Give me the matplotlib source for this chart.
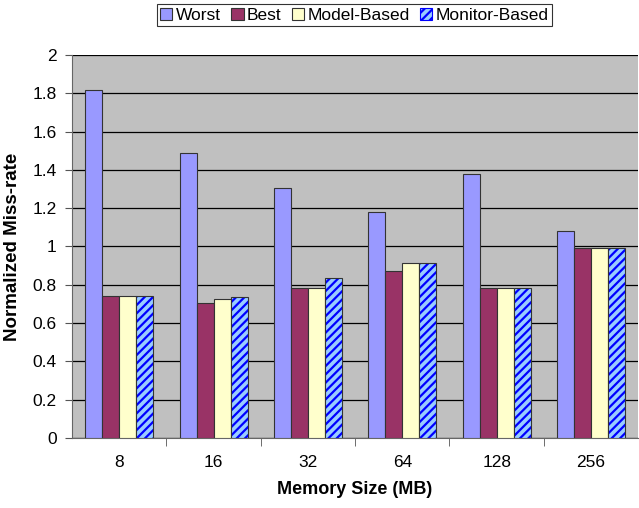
import matplotlib
matplotlib.use("Agg")
import matplotlib.pyplot as plt
import numpy as np
from matplotlib.patches import Patch

plt.rcParams['font.family'] = ['Liberation Sans', 'DejaVu Sans']
plt.rcParams['hatch.linewidth'] = 1.6

sizes = ['8', '16', '32', '64', '128', '256']
worst = [1.815, 1.49, 1.305, 1.18, 1.38, 1.08]
best = [0.74, 0.705, 0.785, 0.87, 0.785, 0.99]
model = [0.74, 0.725, 0.785, 0.915, 0.785, 0.99]
monitor = [0.74, 0.735, 0.835, 0.915, 0.785, 0.99]

fig = plt.figure(figsize=(6.39, 5.08), dpi=100)
ax = fig.add_axes([0.1127, 0.1378, 0.886, 0.754])
ax.set_facecolor('#C0C0C0')

x = np.arange(len(sizes))
w = 0.18
ax.bar(x - 1.5 * w, worst, w, color='#9999FF', edgecolor='#333333', linewidth=0.8, zorder=3)
ax.bar(x - 0.5 * w, best, w, color='#993366', edgecolor='#333333', linewidth=0.8, zorder=3)
ax.bar(x + 0.5 * w, model, w, color='#FFFFCC', edgecolor='#333333', linewidth=0.8, zorder=3)
ax.bar(x + 1.5 * w, monitor, w, color='#99CCFF', edgecolor='#0000FF', hatch='////', linewidth=0, zorder=3)
ax.bar(x + 1.5 * w, monitor, w, fill=False, edgecolor='#333333', linewidth=0.8, zorder=4)

ax.set_xlim(-0.5, len(sizes) - 0.5)
ax.set_ylim(0, 2)
ax.set_yticks(np.arange(0, 2.01, 0.2))
ax.set_yticklabels(['0', '0.2', '0.4', '0.6', '0.8', '1', '1.2', '1.4', '1.6', '1.8', '2'])
ax.yaxis.grid(True, color='black', linewidth=0.9, zorder=0)
ax.set_axisbelow(True)

ax.set_xticks(x)
ax.set_xticklabels(sizes)
ax.set_xticks(np.arange(0.5, len(sizes) - 0.5, 1), minor=True)
ax.tick_params(axis='x', which='major', length=0, pad=12, labelsize=12.5)
ax.tick_params(axis='x', which='minor', length=6, direction='out', color='#555555')
ax.tick_params(axis='y', length=5, pad=6, color='#555555', labelsize=12.5)

for s in ['top', 'right']:
    ax.spines[s].set_visible(False)
ax.spines['left'].set_color('#666666')
ax.spines['bottom'].set_color('#666666')

ax.set_ylabel('Normalized Miss-rate', fontsize=13.5, fontweight='bold', labelpad=8)
ax.set_xlabel('Memory Size (MB)', fontsize=13, fontweight='bold', labelpad=8)

handles = [
    Patch(facecolor='#9999FF', edgecolor='#333333', linewidth=0.8),
    Patch(facecolor='#993366', edgecolor='#333333', linewidth=0.8),
    Patch(facecolor='#FFFFCC', edgecolor='#333333', linewidth=0.8),
    Patch(facecolor='#99CCFF', edgecolor='#0000FF', hatch='////', linewidth=0.8),
]
leg = fig.legend(handles, ['Worst', 'Best', 'Model-Based', 'Monitor-Based'],
                 loc='upper center', bbox_to_anchor=(0.555, 0.992), ncol=4,
                 fontsize=12.5, frameon=True, fancybox=False, handlelength=0.7,
                 handleheight=0.7, handletextpad=0.2, columnspacing=0.6,
                 borderpad=0.2, borderaxespad=0.0)
leg.get_frame().set_edgecolor('black')
leg.get_frame().set_linewidth(0.8)

fig.savefig('out.png', dpi=100)
